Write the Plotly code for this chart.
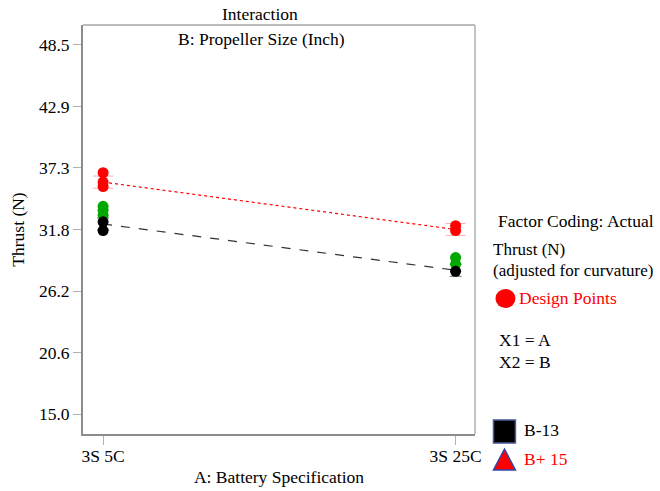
import plotly.graph_objects as go

# ---- data ----
x_labels = ["3S 5C", "3S 25C"]
x_pos = [0, 1]
y_tickvals = [15.0, 20.583, 26.167, 31.75, 37.333, 42.917, 48.5]
y_ticktext = ["15.0", "20.6", "26.2", "31.8", "37.3", "42.9", "48.5"]

# design points
red_x = [0, 0, 0, 1, 1]
red_y = [36.9, 36.05, 35.65, 32.1, 31.65]
green_x = [0, 0, 0, 1, 1]
green_y = [33.85, 33.5, 33.05, 29.2, 28.6]
black_x = [0, 0, 1]
black_y = [32.45, 31.65, 27.95]

# interaction lines (model predictions)
line_bplus = [36.05, 31.75]   # B+ 15
line_bminus = [32.25, 28.05]  # B- 13
lsd_half = [0.55, 0.55]

FONT = "'Times New Roman', 'Liberation Serif', Tinos, 'DejaVu Serif', serif"

fig = go.Figure()

# B+ line
fig.add_trace(go.Scatter(
    x=x_pos, y=line_bplus, mode="lines+markers",
    line=dict(color="red", width=1.2, dash="dot"),
    marker=dict(symbol="triangle-up", size=7, color="red"),
    error_y=dict(type="data", array=lsd_half, color="rgba(255,120,120,0.6)", thickness=1, width=10),
    showlegend=False, hoverinfo="skip"))
# B- line
fig.add_trace(go.Scatter(
    x=x_pos, y=line_bminus, mode="lines+markers",
    line=dict(color="#333333", width=1.2, dash="dash"),
    marker=dict(symbol="square", size=7, color="black"),
    error_y=dict(type="data", array=lsd_half, color="rgba(60,60,60,0.7)", thickness=1, width=6),
    showlegend=False, hoverinfo="skip"))

# design points
fig.add_trace(go.Scatter(x=red_x, y=red_y, mode="markers",
                         marker=dict(color="#ff0000", size=11, line=dict(width=0)),
                         showlegend=False))
fig.add_trace(go.Scatter(x=green_x, y=green_y, mode="markers",
                         marker=dict(color="#00a800", size=11, line=dict(width=0)),
                         showlegend=False))
fig.add_trace(go.Scatter(x=black_x, y=black_y, mode="markers",
                         marker=dict(color="black", size=11, line=dict(width=0)),
                         showlegend=False))

# pixel -> paper helpers
L, R, T, B = 83, 475.5, 25, 434
W, H = R - L, B - T
def px(x):
    return (x - L) / W
def py(y):
    return (B - y) / H

shapes = [
    # top and right frame lines (lighter)
    dict(type="line", xref="paper", yref="paper", x0=0, x1=1, y0=1, y1=1,
         line=dict(color="#bcbcbc", width=2)),
    dict(type="line", xref="paper", yref="paper", x0=1, x1=1, y0=0, y1=1,
         line=dict(color="#c4c4c4", width=2)),
    # legend markers
    dict(type="circle", xref="paper", yref="paper",
         x0=px(496), x1=px(516), y0=py(308), y1=py(289),
         fillcolor="#ff0000", line=dict(width=0)),
    dict(type="rect", xref="paper", yref="paper",
         x0=px(494), x1=px(516), y0=py(443), y1=py(420),
         fillcolor="black", line=dict(color="#4a5a9a", width=1.5)),
    dict(type="path", xref="paper", yref="paper",
         path=f"M {px(505)},{py(449)} L {px(516)},{py(470)} L {px(494)},{py(470)} Z",
         fillcolor="#ff0000", line=dict(color="#3344aa", width=1.5)),
]

def ann(text, x, y, color="black", size=17.5, xanchor="left"):
    return dict(text=text, xref="paper", yref="paper", x=px(x), y=py(y),
                xanchor=xanchor, yanchor="middle", showarrow=False,
                font=dict(family=FONT, size=size, color=color))

annotations = [
    ann("Interaction", 260, 14, xanchor="center"),
    ann("B: Propeller Size (Inch)", 262, 39, xanchor="center"),
    ann("Factor Coding: Actual", 497, 221),
    ann("Thrust (N)", 492, 250, size=17),
    ann("(adjusted for curvature)", 492, 270, size=17),
    ann("Design Points", 518, 298, color="#ff0000"),
    ann("X1 = A", 498, 340),
    ann("X2 = B", 498, 362),
    ann("B-13", 523, 430),
    ann("B+ 15", 523, 459, color="#ff0000"),
]

fig.update_layout(
    width=660, height=491,
    margin=dict(l=L, r=660 - R, t=T, b=491 - B),
    paper_bgcolor="white", plot_bgcolor="white",
    font=dict(family=FONT, size=17.5, color="black"),
    shapes=shapes, annotations=annotations,
    showlegend=False,
)
fig.update_xaxes(
    range=[-0.057, 1.055], tickvals=x_pos, ticktext=x_labels, automargin=False,
    showgrid=False, zeroline=False, showline=True, linecolor="#8c8c8c", linewidth=2,
    ticks="outside", ticklen=9, tickcolor="#b0b0b0", tickwidth=1,
    ticklabelstandoff=-4,
    title=dict(text="A: Battery Specification", standoff=6, font=dict(size=17.5)),
    tickfont=dict(size=17.5),
)
fig.update_yaxes(
    range=[13.19, 50.31], tickvals=y_tickvals, ticktext=y_ticktext, automargin=False,
    showgrid=False, zeroline=False, showline=True, linecolor="#8c8c8c", linewidth=2,
    ticks="outside", ticklen=8, tickcolor="#b0b0b0", tickwidth=1,
    title=dict(text="Thrust (N)", standoff=10, font=dict(size=17.5)),
    tickfont=dict(size=17.5),
)

fig.write_html("out.html")
